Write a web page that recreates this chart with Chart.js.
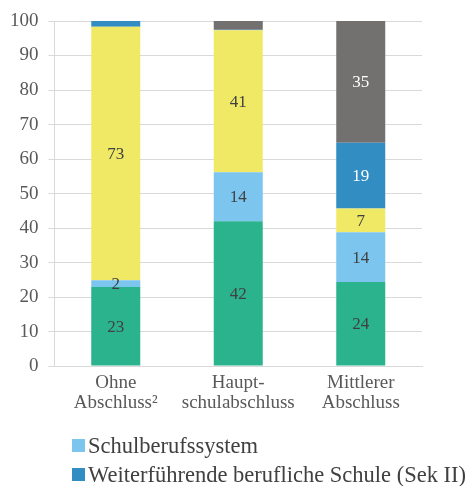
<!DOCTYPE html>
<html>
<head>
<meta charset="utf-8">
<script src="https://cdn.jsdelivr.net/npm/chart.js@4"></script>
<style>
  body { margin: 0; background: #fff; }
  #wrap { position: relative; width: 471px; height: 486px; }
  #legend { position: absolute; left: 72px; top: 431px; font-family: "Liberation Serif", serif; font-size: 22.5px; color: #404040; }
  .item { display: flex; align-items: center; height: 29px; }
  .box { width: 13px; height: 13px; margin-right: 3px; }
</style>
</head>
<body>
<div id="wrap">
  <canvas id="chart" width="471" height="486"></canvas>
  <div id="legend"></div>
</div>
<script>
// --- Data ---
const categories = [["Ohne", "Abschluss²"], ["Haupt-", "schulabschluss"], ["Mittlerer", "Abschluss"]];
const seriesNames = ["Duales System", "Schulberufssystem", "Übergangssystem", "Weiterführende berufliche Schule (Sek II)", "Sonstiges"];
const duales = [22.9, 42.0, 24.4];
const schulberuf = [2.0, 14.2, 14.4];
const uebergang = [73.4, 41.1, 6.9];
const weiterfuehrend = [1.7, 0.2, 19.0];
const sonstiges = [0, 2.5, 35.3];
const yTicks = [0, 10, 20, 30, 40, 50, 60, 70, 80, 90, 100];
const legendShown = [1, 3];

const colors = ["#2bb38e", "#7cc5ee", "#f0e966", "#318dc2", "#737070"];
const labelColors = ["#404040", "#404040", "#404040", "#ffffff", "#ffffff"];
const minLabel = [1.9, 1.9, 1.9, 5, 5];

const allSeries = [duales, schulberuf, uebergang, weiterfuehrend, sonstiges];

const datasets = allSeries.map((vals, i) => ({
    label: seriesNames[i],
    data: vals,
    backgroundColor: colors[i],
    borderWidth: 0,
    categoryPercentage: 1,
    barPercentage: 0.4
}));

// --- Segment labels ---
const segmentLabels = {
    id: "segmentLabels",
    afterDatasetsDraw(chart) {
        const ctx = chart.ctx;
        ctx.save();
        ctx.font = "17px 'Liberation Serif', serif";
        ctx.textAlign = "center";
        ctx.textBaseline = "middle";
        chart.data.datasets.forEach((ds, i) => {
            const meta = chart.getDatasetMeta(i);
            meta.data.forEach((bar, j) => {
                const v = ds.data[j];
                if (v < minLabel[i]) return;
                ctx.fillStyle = labelColors[i];
                ctx.fillText(Math.round(v), bar.x, (bar.y + bar.base) / 2 + 1);
            });
        });
        ctx.restore();
    }
};

const tickFont = { family: "'Liberation Serif', serif", size: 19, lineHeight: 1.05 };

new Chart(document.getElementById("chart"), {
    type: "bar",
    data: { labels: categories, datasets },
    options: {
        responsive: false,
        animation: false,
        layout: { padding: { left: 0, right: 49, top: 21, bottom: 66 } },
        plugins: { legend: { display: false }, tooltip: { enabled: false } },
        scales: {
            x: {
                stacked: true,
                grid: { display: false, drawTicks: false },
                border: { color: "#d9d9d9", width: 1 },
                ticks: { font: tickFont, color: "#595959", padding: 7 }
            },
            y: {
                stacked: true,
                min: 0,
                max: 100,
                afterBuildTicks: axis => { axis.ticks = yTicks.map(v => ({ value: v })); },
                grid: { color: "#d9d9d9", tickLength: 6 },
                border: { color: "#d9d9d9" },
                ticks: { font: tickFont, color: "#595959", padding: 10 }
            }
        }
    },
    plugins: [segmentLabels]
});

// --- Legend (only the visible entries) ---
document.getElementById("legend").innerHTML = legendShown.map(i => `
    <div class="item"><span class="box" style="background:${colors[i]}"></span>${seriesNames[i]}</div>
`).join("");
</script>
</body>
</html>
